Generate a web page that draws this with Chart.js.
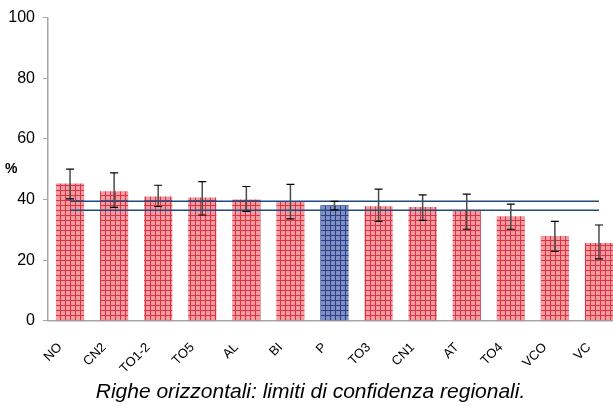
<!DOCTYPE html>
<html>
<head>
<meta charset="utf-8">
<script src="https://cdn.jsdelivr.net/npm/chart.js@4.4.0/dist/chart.umd.min.js"></script>
<style>
  html, body { margin: 0; padding: 0; background: #fff; overflow: hidden; }
  #wrap { width: 621px; height: 406px; position: relative; }
</style>
</head>
<body>
<div id="wrap"><canvas id="chart"></canvas></div>
<script>
let labels = ['NO', 'CN2', 'TO1-2', 'TO5', 'AL', 'BI', 'P', 'TO3', 'CN1', 'AT', 'TO4', 'VCO', 'VC'];
let values = [45.3, 42.7, 41.0, 40.7, 40.0, 39.2, 38.1, 37.8, 37.5, 36.3, 34.5, 28.0, 25.7];
let upper = [50.0, 48.8, 44.7, 45.9, 44.3, 45.0, 39.4, 43.4, 41.5, 41.8, 38.5, 32.8, 31.6];
let lower = [40.2, 37.4, 37.7, 34.9, 36.1, 33.6, 36.6, 32.8, 33.1, 30.2, 30.2, 22.9, 20.4];
let regionHigh = 39.4;
let regionLow = 36.5;
let yTicks = [0, 20, 40, 60, 80, 100];

function makePattern(base, line) {
    let c = document.createElement('canvas');
    c.width = 5;
    c.height = 5;
    let g = c.getContext('2d');
    g.fillStyle = base;
    g.fillRect(0, 0, 5, 5);
    g.fillStyle = line;
    g.fillRect(0, 0, 5, 1);
    g.fillRect(0, 0, 1, 5);
    return g.createPattern(c, 'repeat');
}

let red = makePattern('#f09ca2', '#db3440');
let blue = makePattern('#8190c3', '#2b3f88');
let colors = labels.map(function(l) { return l === 'P' ? blue : red; });

// error bars + the "%" label
let extras = {
    id: 'extras',
    afterDatasetsDraw: function(chart) {
        let ctx = chart.ctx;
        let x = chart.scales.x;
        let y = chart.scales.y;
        ctx.save();
        for (let i = 0; i < labels.length; i++) {
            let px = x.getPixelForValue(i);
            let top = y.getPixelForValue(upper[i]);
            let bot = y.getPixelForValue(lower[i]);
            ctx.strokeStyle = '#4a4a4a';
            ctx.lineWidth = 1.5;
            ctx.beginPath();
            ctx.moveTo(px, top);
            ctx.lineTo(px, bot);
            ctx.stroke();
            ctx.strokeStyle = '#000';
            ctx.lineWidth = 1.2;
            ctx.beginPath();
            ctx.moveTo(px - 4, top);
            ctx.lineTo(px + 4, top);
            ctx.moveTo(px - 4, bot);
            ctx.lineTo(px + 4, bot);
            ctx.stroke();
        }
        ctx.fillStyle = '#000';
        ctx.font = 'bold 14px Arial, "Liberation Sans"';
        ctx.textAlign = 'left';
        ctx.textBaseline = 'middle';
        ctx.fillText('%', 5, y.getPixelForValue(50));
        ctx.restore();
    }
};

new Chart(document.getElementById('chart'), {
    type: 'bar',
    data: {
        labels: labels,
        datasets: [{
            label: 'upper',
            type: 'line',
            data: labels.map(function() { return regionHigh; }),
            borderColor: '#1f4a7a',
            borderWidth: 1.5,
            pointRadius: 0,
            order: 0
        }, {
            label: 'lower',
            type: 'line',
            data: labels.map(function() { return regionLow; }),
            borderColor: '#1f4a7a',
            borderWidth: 1.5,
            pointRadius: 0,
            order: 0
        }, {
            label: '%',
            data: values,
            backgroundColor: colors,
            barPercentage: 0.64,
            categoryPercentage: 1,
            order: 1
        }]
    },
    options: {
        responsive: true,
        maintainAspectRatio: false,
        animation: false,
        layout: { padding: { top: 14, left: 0, right: 0, bottom: 0 } },
        plugins: {
            legend: { display: false },
            tooltip: { enabled: false },
            title: {
                display: true,
                position: 'bottom',
                text: 'Righe orizzontali: limiti di confidenza regionali.',
                color: '#000',
                font: { family: 'Arial, "Liberation Sans"', size: 21, style: 'italic', weight: 'normal' },
                padding: { top: 9, bottom: 1 }
            }
        },
        scales: {
            x: {
                grid: { display: false },
                border: { color: '#a6a6a6', width: 1.5 },
                ticks: {
                    color: '#000',
                    font: { family: 'Arial, "Liberation Sans"', size: 13 },
                    minRotation: 45,
                    maxRotation: 45,
                    padding: 11,
                    labelOffset: -10
                },
                afterFit: function(s) { s.height = 50; }
            },
            y: {
                min: 0,
                max: 100,
                afterBuildTicks: function(s) { s.ticks = yTicks.map(function(v) { return { value: v }; }); },
                grid: { drawOnChartArea: false, tickLength: 5, color: '#a6a6a6' },
                border: { color: '#a6a6a6', width: 1.5 },
                ticks: {
                    color: '#000',
                    font: { family: 'Arial, "Liberation Sans"', size: 16 },
                    padding: 8
                },
                afterFit: function(s) { s.width = 48; }
            }
        }
    },
    plugins: [extras]
});
</script>
</body>
</html>
